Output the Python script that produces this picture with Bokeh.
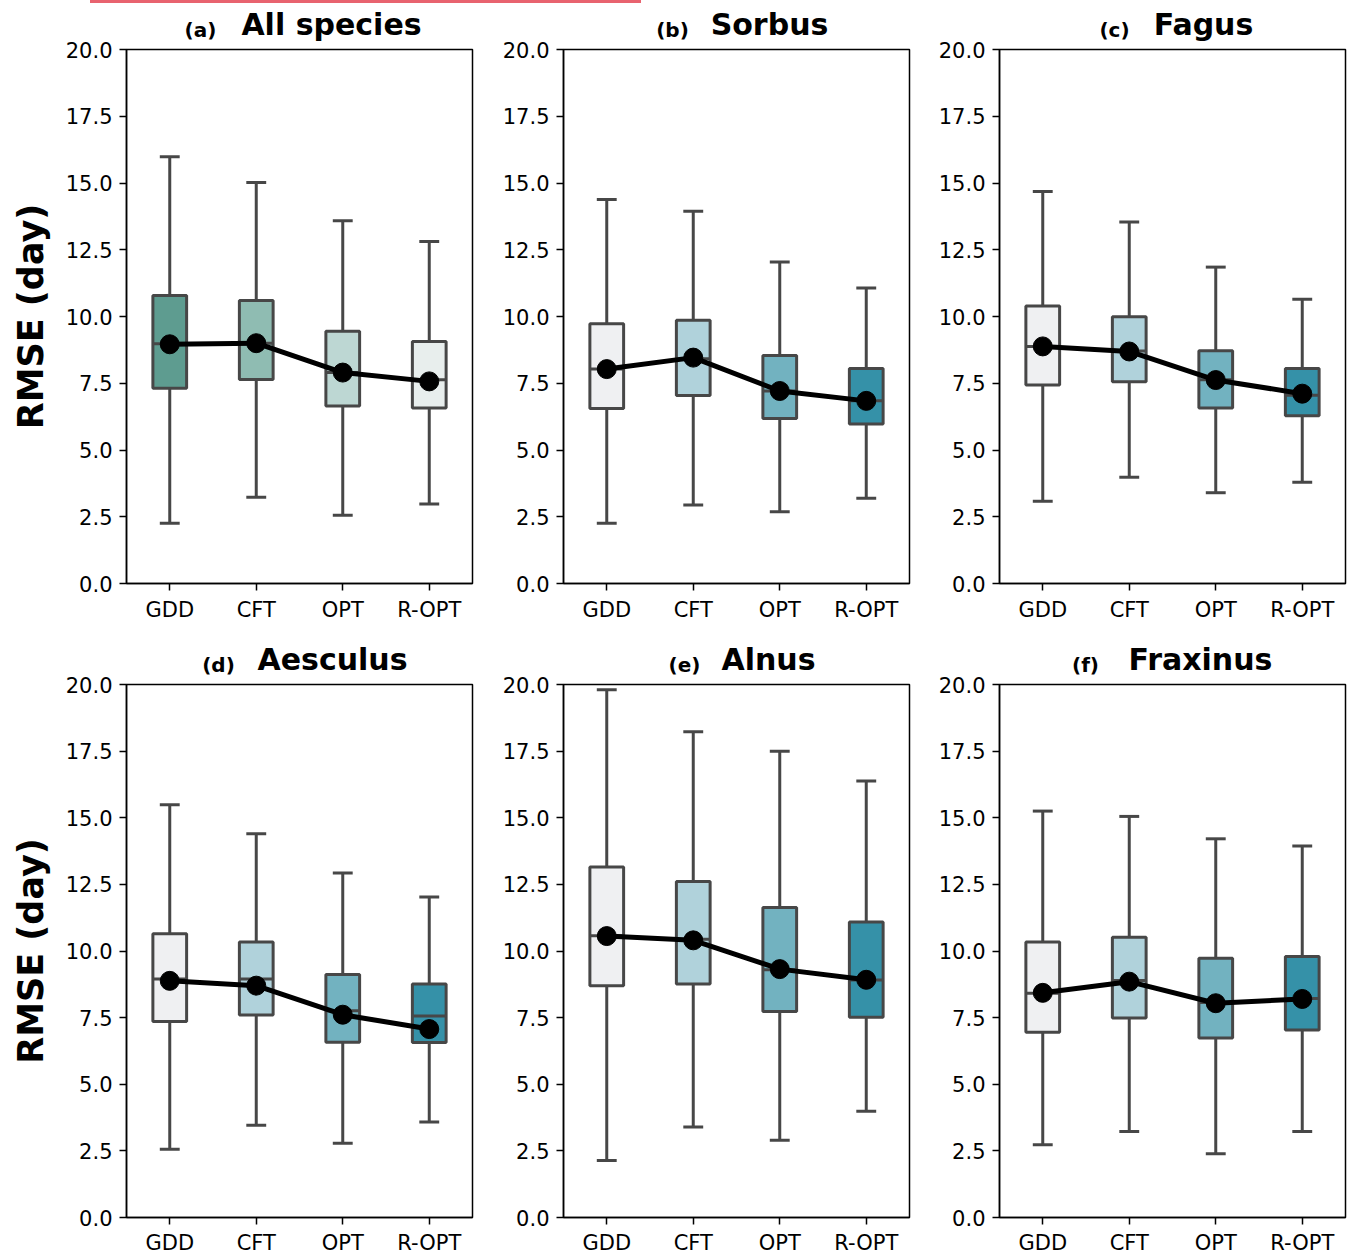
from bokeh.plotting import figure
from bokeh.layouts import gridplot, column
from bokeh.models import (FixedTicker, Range1d, Div, ColumnDataSource, PrintfTickFormatter,
                          LinearAxis)
from bokeh.embed import file_html
from bokeh.resources import INLINE

models = ["GDD", "CFT", "OPT", "R-OPT"]
y_ticks = [0.0, 2.5, 5.0, 7.5, 10.0, 12.5, 15.0, 17.5, 20.0]

tags = ["(a)", "(b)", "(c)", "(d)", "(e)", "(f)"]
names = ["All species", "Sorbus", "Fagus", "Aesculus", "Alnus", "Fraxinus"]

# whisker low, Q1, median, Q3, whisker high, mean
a_low = [2.26, 3.23, 2.56, 2.98]
a_q1 = [7.31, 7.64, 6.65, 6.57]
a_med = [8.98, 9.00, 7.90, 7.63]
a_q3 = [10.79, 10.60, 9.45, 9.06]
a_high = [15.98, 15.02, 13.59, 12.81]
a_mean = [8.96, 9.00, 7.90, 7.57]

b_low = [2.26, 2.94, 2.69, 3.19]
b_q1 = [6.55, 7.04, 6.18, 5.97]
b_med = [8.03, 8.42, 7.21, 6.84]
b_q3 = [9.73, 9.86, 8.54, 8.05]
b_high = [14.38, 13.94, 12.04, 11.07]
b_mean = [8.03, 8.46, 7.21, 6.84]

c_low = [3.08, 3.98, 3.40, 3.79]
c_q1 = [7.43, 7.56, 6.57, 6.28]
c_med = [8.88, 8.71, 7.63, 7.05]
c_q3 = [10.39, 9.99, 8.72, 8.05]
c_high = [14.68, 13.54, 11.85, 10.65]
c_mean = [8.88, 8.69, 7.62, 7.11]

d_low = [2.56, 3.46, 2.79, 3.58]
d_q1 = [7.35, 7.60, 6.58, 6.57]
d_med = [8.95, 8.95, 7.76, 7.56]
d_q3 = [10.65, 10.34, 9.12, 8.76]
d_high = [15.49, 14.40, 12.93, 12.03]
d_mean = [8.88, 8.70, 7.61, 7.07]

e_low = [2.14, 3.40, 2.90, 3.99]
e_q1 = [8.70, 8.76, 7.73, 7.51]
e_med = [10.57, 10.44, 9.30, 8.91]
e_q3 = [13.15, 12.61, 11.63, 11.09]
e_high = [19.80, 18.23, 17.50, 16.38]
e_mean = [10.56, 10.40, 9.32, 8.92]

f_low = [2.73, 3.23, 2.39, 3.23]
f_q1 = [6.95, 7.49, 6.74, 7.04]
f_med = [8.41, 8.89, 8.07, 8.22]
f_q3 = [10.34, 10.52, 9.73, 9.79]
f_high = [15.25, 15.05, 14.21, 13.94]
f_mean = [8.43, 8.85, 8.04, 8.20]

colors_all = ["#5e9c90", "#8fbcb2", "#bdd7d3", "#e8eeed"]
colors_sp = ["#eff0f2", "#b0d2db", "#72b2c0", "#3591a8"]

FONT = "DejaVu Sans"
EDGE = "#474747"
BOX_W = 0.39
CAP_HW = 0.115
FRAME_W = 346

# per panel: pixel offsets from frame left for tag centre and name centre
title_pos = [(74, 205), (109, 206), (115, 204), (92, 206), (121, 205), (86, 201)]

panels = [
    (a_low, a_q1, a_med, a_q3, a_high, a_mean, colors_all),
    (b_low, b_q1, b_med, b_q3, b_high, b_mean, colors_sp),
    (c_low, c_q1, c_med, c_q3, c_high, c_mean, colors_sp),
    (d_low, d_q1, d_med, d_q3, d_high, d_mean, colors_sp),
    (e_low, e_q1, e_med, e_q3, e_high, e_mean, colors_sp),
    (f_low, f_q1, f_med, f_q3, f_high, f_mean, colors_sp),
]


def title_axis(pos, text, size, standoff):
    ax = LinearAxis(x_range_name="px", ticker=FixedTicker(ticks=[pos]),
                    major_label_overrides={pos: text})
    ax.axis_line_color = None
    ax.major_tick_line_color = None
    ax.minor_tick_line_color = None
    ax.major_tick_out = 0
    ax.major_tick_in = 0
    ax.major_label_text_font = FONT
    ax.major_label_text_font_size = size
    ax.major_label_text_font_style = "bold"
    ax.major_label_text_color = "black"
    ax.major_label_standoff = standoff
    return ax


def make_panel(k):
    low, q1, med, q3, high, mean, cols = panels[k]
    col = k % 3
    row = k // 3
    left = 126 if col == 0 else 83
    right = [8, 7, 6][col]
    top = 46 if row == 0 else 58
    bottom = 43 if row == 0 else 40
    frame_h = 534 if row == 0 else 533
    p = figure(frame_width=FRAME_W, frame_height=frame_h,
               x_range=Range1d(-0.5, 3.5), y_range=Range1d(0, 20),
               output_backend="svg", toolbar_location=None,
               min_border_left=left, min_border_right=right,
               min_border_top=top, min_border_bottom=bottom,
               background_fill_color="white", border_fill_color="white")
    p.extra_x_ranges = {"px": Range1d(0, FRAME_W)}
    p.xgrid.visible = False
    p.ygrid.visible = False
    p.outline_line_color = "black"
    p.outline_line_width = 1.5
    p.outline_line_alpha = 1.0

    xs = list(range(len(models)))
    p.xaxis.ticker = FixedTicker(ticks=xs)
    p.xaxis.major_label_overrides = {i: m for i, m in enumerate(models)}
    p.yaxis.ticker = FixedTicker(ticks=y_ticks)
    p.yaxis.formatter = PrintfTickFormatter(format="%.1f")
    for ax in (p.xaxis, p.yaxis):
        ax.axis_line_color = "black"
        ax.axis_line_width = 1.5
        ax.major_tick_line_color = "black"
        ax.major_tick_line_width = 1.5
        ax.major_tick_out = 7
        ax.major_tick_in = 0
        ax.minor_tick_line_color = None
        ax.major_label_text_font = FONT
        ax.major_label_text_font_size = "21px"
        ax.major_label_text_color = "black"
        ax.major_label_standoff = 7
    if row == 1:
        p.xaxis.major_label_standoff = 6
    if col == 0:
        p.yaxis.axis_label = "RMSE (day)"
        p.yaxis.axis_label_text_font = FONT
        p.yaxis.axis_label_text_font_size = "35px"
        p.yaxis.axis_label_text_font_style = "bold"
        p.yaxis.axis_label_text_color = "black"
        p.yaxis.axis_label_standoff = 12

    src = ColumnDataSource(dict(
        x=xs, low=low, q1=q1, med=med, q3=q3, high=high, mean=mean, color=cols,
        cl=[x - CAP_HW for x in xs], cr=[x + CAP_HW for x in xs],
        bl=[x - BOX_W / 2 for x in xs], br=[x + BOX_W / 2 for x in xs],
    ))
    p.segment(x0="x", y0="low", x1="x", y1="high", line_color=EDGE, line_width=3, source=src)
    p.segment(x0="cl", y0="low", x1="cr", y1="low", line_color=EDGE, line_width=3, source=src)
    p.segment(x0="cl", y0="high", x1="cr", y1="high", line_color=EDGE, line_width=3, source=src)
    p.vbar(x="x", width=BOX_W, bottom="q1", top="q3", fill_color="color",
           line_color=EDGE, line_width=3, source=src)
    p.segment(x0="bl", y0="med", x1="br", y1="med", line_color=EDGE, line_width=3, source=src)
    p.line(x="x", y="mean", line_color="black", line_width=5, line_join="round", source=src)
    p.scatter(x="x", y="mean", size=19, fill_color="black", line_color="black", source=src)

    tx, nx = title_pos[k]
    p.add_layout(title_axis(tx, tags[k], "20px", 8), "above")
    p.add_layout(title_axis(nx, names[k], "30px", -27), "above")
    return p


figs = [make_panel(k) for k in range(6)]
grid = gridplot([figs[0:3], figs[3:6]], toolbar_location=None)
bar = Div(text="", width=551, height=3, margin=(0, 0, 0, 90),
          styles={"background-color": "#e8636f"})
layout = column(bar, grid, spacing=0)

open("out.html", "w").write(file_html(layout, INLINE))
